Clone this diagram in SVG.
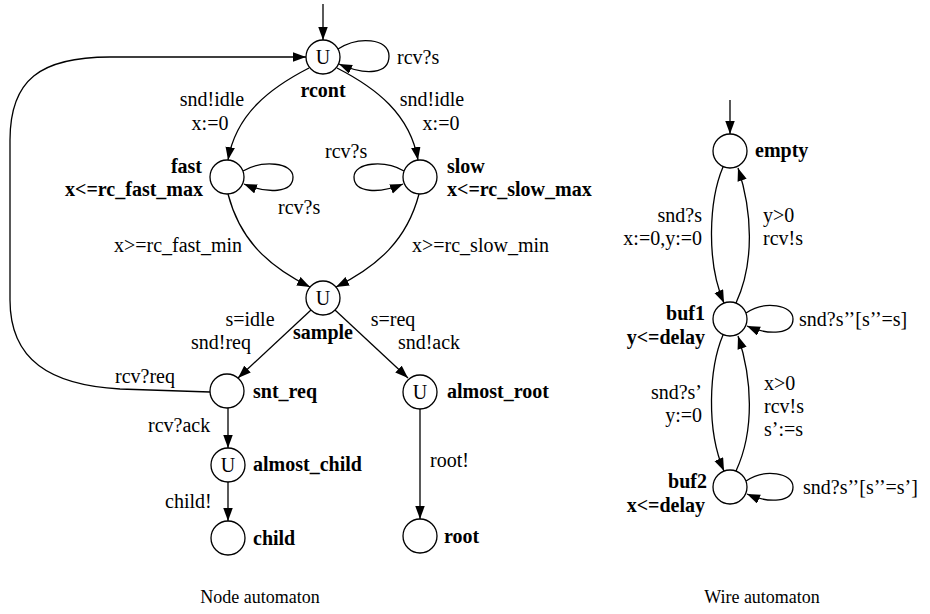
<svg xmlns="http://www.w3.org/2000/svg" width="930" height="614" viewBox="0 0 930 614">
<defs>
<marker id="ah" markerUnits="userSpaceOnUse" markerWidth="14" markerHeight="10" refX="13" refY="4.75" orient="auto">
<path d="M0,0 L13,4.75 L0,9.5 z" fill="#000"/>
</marker>
<style>
.st{fill:#fff;stroke:#000;stroke-width:1.3}
.e{fill:none;stroke:#000;stroke-width:1.3;marker-end:url(#ah)}
text{font-family:"Liberation Serif","Times New Roman",serif;font-size:20px;fill:#000}
.b{font-weight:bold}
.m{text-anchor:middle}
.r{text-anchor:end}
.cap{font-size:18px}
</style>
</defs>
<rect width="930" height="614" fill="#fff"/>

<g id="connectors">
<path class="e" d="M323,4 L323,40"/>
<path class="e" d="M338,49 C358,36 389,38 389,56 C389,74 366,76 339,64"/>
<path class="e" d="M309,68 C270,88 236,114 228,160"/>
<path class="e" d="M337,68 C376,88 410,114 418,160"/>
<path class="e" d="M243,171 C262,160 293,162 293,177 C293,193 268,194 244,184"/>
<path class="e" d="M404,171 C385,160 354,162 354,177 C354,193 379,194 403,184"/>
<path class="e" d="M228,194 C240,240 268,266 310,287"/>
<path class="e" d="M419,194 C407,240 378,266 336,287"/>
<path class="e" d="M311,310 L238,378"/>
<path class="e" d="M335,310 L408,378"/>
<path class="e" d="M210,392 L120,389 C50,385 10,360 10,300 L10,140 C10,80 40,57 110,57 L306,57"/>
<path class="e" d="M228,408 L228,448"/>
<path class="e" d="M228,482 L228,521"/>
<path class="e" d="M420,409 L420,519"/>
<path class="e" d="M730,100 L730,134"/>
<path class="e" d="M723,167 C709,200 706,262 724,303"/>
<path class="e" d="M736,303 C755,262 752,210 738,168"/>
<path class="e" d="M746,313 C765,300 793,305 793,319 C793,334 770,336 747,326"/>
<path class="e" d="M723,335 C709,368 706,430 724,471"/>
<path class="e" d="M736,471 C755,430 752,378 738,336"/>
<path class="e" d="M746,481 C765,468 793,473 793,487 C793,502 770,504 747,494"/>
</g>

<g id="edge-labels">
<text x="397" y="64">rcv?s</text>
<text class="m" x="212" y="106">snd!idle</text>
<text class="m" x="210" y="130">x:=0</text>
<text class="m" x="432" y="106">snd!idle</text>
<text class="m" x="441" y="130">x:=0</text>
<text x="278" y="214">rcv?s</text>
<text x="325" y="158">rcv?s</text>
<text class="r" x="242" y="252">x&gt;=rc_fast_min</text>
<text x="412" y="252">x&gt;=rc_slow_min</text>
<text class="m" x="250" y="326">s=idle</text>
<text class="m" x="221" y="349">snd!req</text>
<text class="m" x="393" y="326">s=req</text>
<text class="m" x="429" y="349">snd!ack</text>
<text x="115" y="383">rcv?req</text>
<text x="148" y="432">rcv?ack</text>
<text x="165" y="508">child!</text>
<text x="430" y="467">root!</text>
<text class="r" x="702" y="222">snd?s</text>
<text class="r" x="702" y="245">x:=0,y:=0</text>
<text x="763" y="222">y&gt;0</text>
<text x="763" y="245">rcv!s</text>
<text x="799" y="326">snd?s’’[s’’=s]</text>
<text class="r" x="702" y="399">snd?s’</text>
<text class="r" x="702" y="422">y:=0</text>
<text x="764" y="390">x&gt;0</text>
<text x="764" y="413">rcv!s</text>
<text x="764" y="436">s’:=s</text>
<text x="803" y="494">snd?s’’[s’’=s’]</text>
</g>

<g id="rcont"><circle class="st" cx="323" cy="57" r="17"/><text class="m" x="323" y="64">U</text><text class="b m" x="323" y="97">rcont</text></g>
<g id="fast"><circle class="st" cx="227" cy="177" r="17"/><text class="b r" x="202" y="173">fast</text><text class="b r" x="203" y="196">x&lt;=rc_fast_max</text></g>
<g id="slow"><circle class="st" cx="420" cy="177" r="17"/><text class="b" x="447" y="173">slow</text><text class="b" x="447" y="196">x&lt;=rc_slow_max</text></g>
<g id="sample"><circle class="st" cx="323" cy="298" r="17"/><text class="m" x="323" y="305">U</text><text class="b m" x="323" y="339">sample</text></g>
<g id="snt_req"><circle class="st" cx="227" cy="391" r="17"/><text class="b" x="253" y="398">snt_req</text></g>
<g id="almost_root"><circle class="st" cx="420" cy="392" r="17"/><text class="m" x="420" y="399">U</text><text class="b" x="447" y="398">almost_root</text></g>
<g id="almost_child"><circle class="st" cx="228" cy="465" r="17"/><text class="m" x="228" y="472">U</text><text class="b" x="253" y="471">almost_child</text></g>
<g id="child"><circle class="st" cx="228" cy="538" r="17"/><text class="b" x="253" y="545">child</text></g>
<g id="root"><circle class="st" cx="420" cy="536" r="17"/><text class="b" x="444" y="543">root</text></g>

<g id="empty"><circle class="st" cx="730" cy="151" r="17"/><text class="b" x="755" y="157">empty</text></g>
<g id="buf1"><circle class="st" cx="730" cy="319" r="17"/><text class="b r" x="705" y="320">buf1</text><text class="b r" x="705" y="344">y&lt;=delay</text></g>
<g id="buf2"><circle class="st" cx="730" cy="487" r="17"/><text class="b r" x="707" y="488">buf2</text><text class="b r" x="705" y="512">x&lt;=delay</text></g>

<g id="captions">
<text class="m cap" x="260" y="603">Node automaton</text>
<text class="m cap" x="762" y="603">Wire automaton</text>
</g>
</svg>
